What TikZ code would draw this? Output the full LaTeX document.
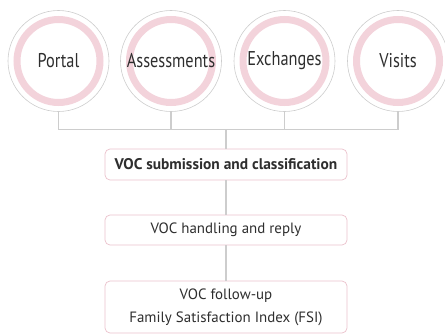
\documentclass[tikz,border=0pt]{standalone}
\usepackage{fontspec}
\setmainfont{PT Sans}
\newfontfamily\condfont{PT Sans}[FakeStretch=0.82]
\definecolor{linegray}{HTML}{CDCDCD}
\definecolor{ringpink}{HTML}{F3D3DB}
\definecolor{boxpink}{HTML}{EBC2CC}
\definecolor{txt}{HTML}{2E2E2E}
\begin{document}
\begin{tikzpicture}[x=1bp,y=1bp,
  outer/.style={circle,draw=linegray,line width=0.6bp,minimum size=101bp,inner sep=0pt,text=txt,font=\condfont\fontsize{20}{23}\selectfont},
  ring/.style={draw=ringpink,line width=7bp},
  conn/.style={draw=linegray,line width=1.3bp},
  vocbox/.style={draw=boxpink,line width=0.7bp,rounded corners=5bp,minimum width=242bp,inner sep=0pt,text=txt,align=center,fill=white}]
\useasboundingbox (0,0) rectangle (445,335);
\foreach \n/\x in {p/58.5,a/171,e/284.5,v/398}{
  \draw[ring] (\x,274) circle (41.5bp);
}
\node[outer] (p) at (58.5,274) {Portal};
\node[outer] (a) at (171,274) {Assessments};
\node[outer] (e) at (284.5,274) {Exchanges};
\node[outer] (v) at (398,274) {Visits};
\node[vocbox,minimum height=31bp,font=\fontsize{15.5}{18}\selectfont\bfseries] (b1) at (226,170.5) {VOC submission and classification};
\node[vocbox,minimum height=30bp,font=\fontsize{15}{18}\selectfont] (b2) at (226,105) {VOC handling and reply};
\node[vocbox,minimum height=52bp,font=\fontsize{15}{23}\selectfont] (b3) at (226,28) {VOC follow-up\\Family Satisfaction Index (FSI)};
\coordinate (j) at (226,205.7);
\draw[conn] (p.south) |- (j);
\draw[conn] (v.south) |- (j);
\draw[conn] (a.south) -- (a.south |- j);
\draw[conn] (e.south) -- (e.south |- j);
\draw[conn] (j) -- (b1.north);
\draw[conn] (b1.south) -- (b2.north);
\draw[conn] (b2.south) -- (b3.north);
\end{tikzpicture}
\end{document}
